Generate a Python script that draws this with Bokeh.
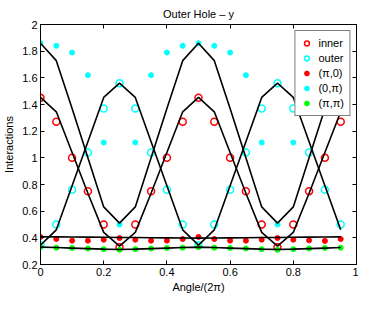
from bokeh.plotting import figure
from bokeh.models import LinearAxis, Range1d, FixedTicker, Legend, LegendItem, ColumnDataSource, Title
from bokeh.embed import file_html
from bokeh.resources import INLINE

angle = [0.0, 0.05, 0.1, 0.15, 0.2, 0.25, 0.3, 0.35, 0.4, 0.45,
         0.5, 0.55, 0.6, 0.65, 0.7, 0.75, 0.8, 0.85, 0.9, 0.95]

inner = [1.45, 1.27, 1.0, 0.75, 0.5, 0.33, 0.5, 0.75, 1.0, 1.27,
         1.45, 1.27, 1.0, 0.75, 0.5, 0.33, 0.5, 0.75, 1.0, 1.27]
outer = [0.345, 0.5, 0.76, 1.04, 1.37, 1.56, 1.37, 1.04, 0.76, 0.5,
         0.345, 0.5, 0.76, 1.04, 1.37, 1.56, 1.37, 1.04, 0.76, 0.5]
pi_0 = [0.407, 0.391, 0.379, 0.379, 0.386, 0.398, 0.386, 0.379, 0.379, 0.391,
        0.407, 0.391, 0.379, 0.379, 0.386, 0.398, 0.386, 0.381, 0.377, 0.391]
zero_pi = [1.86, 1.84, 1.79, 1.62, 1.115, 0.5, 1.115, 1.62, 1.79, 1.84,
           1.86, 1.84, 1.79, 1.62, 1.115, 0.5, 1.115, 1.62, 1.79, 1.84]
pi_pi = [0.331, 0.326, 0.324, 0.32, 0.315, 0.31, 0.315, 0.32, 0.324, 0.326,
         0.331, 0.326, 0.324, 0.32, 0.315, 0.31, 0.315, 0.32, 0.324, 0.326]

fit_a = [1.86, 1.729, 1.37, 1.0, 0.632, 0.51, 0.632, 1.0, 1.37, 1.729,
         1.86, 1.729, 1.37, 1.0, 0.632, 0.51, 0.632, 1.0, 1.37, 1.729]
fit_b = [1.453, 1.345, 1.04, 0.734, 0.441, 0.338, 0.441, 0.734, 1.04, 1.345,
         1.453, 1.345, 1.04, 0.734, 0.441, 0.338, 0.441, 0.734, 1.04, 1.345]
fit_c = [0.345, 0.46, 0.79, 1.12, 1.453, 1.56, 1.453, 1.12, 0.79, 0.46,
         0.345, 0.46, 0.79, 1.12, 1.453, 1.56, 1.453, 1.12, 0.79, 0.46]
fit_pi0 = [0.408, 0.407, 0.406, 0.405, 0.404, 0.403, 0.402, 0.401, 0.400, 0.399,
           0.398, 0.399, 0.400, 0.401, 0.402, 0.403, 0.404, 0.405, 0.406, 0.407]
fit_pipi = [0.330, 0.327, 0.323, 0.319, 0.315, 0.312, 0.315, 0.319, 0.323, 0.327,
            0.330, 0.327, 0.323, 0.319, 0.315, 0.312, 0.315, 0.319, 0.323, 0.327]

x_ticks = [0, 0.2, 0.4, 0.6, 0.8, 1]
x_labels = ["0", "0.2", "0.4", "0.6", "0.8", "1"]
y_ticks = [0.2, 0.4, 0.6, 0.8, 1, 1.2, 1.4, 1.6, 1.8, 2]
y_labels = ["0.2", "0.4", "0.6", "0.8", "1", "1.2", "1.4", "1.6", "1.8", "2"]

FONT = "Liberation Sans"

src = ColumnDataSource(dict(x=angle, inner=inner, outer=outer, pi_0=pi_0,
                            zero_pi=zero_pi, pi_pi=pi_pi, fa=fit_a, fb=fit_b,
                            fc=fit_c, f0=fit_pi0, fp=fit_pipi))

p = figure(width=358, height=294, x_range=Range1d(0, 1), y_range=Range1d(0.2, 2),
           output_backend="svg", toolbar_location=None,
           min_border_left=29, min_border_right=2, min_border_top=16, min_border_bottom=20)

p.title.text = "Outer Hole \u2013 y"
p.title.align = "center"
p.title.text_font = FONT
p.title.text_font_size = "11px"
p.title.text_font_style = "normal"
p.title.text_color = "black"

p.xgrid.visible = False
p.ygrid.visible = False
p.outline_line_color = "black"
p.outline_line_width = 1
p.outline_line_alpha = 1

def style_axis(ax, ticks, labels, show):
    ax.ticker = FixedTicker(ticks=ticks)
    ax.major_tick_in = 4
    ax.major_tick_out = 0
    ax.minor_tick_line_color = None
    ax.axis_line_color = "black"
    ax.major_tick_line_color = "black"
    if show:
        ax.major_label_overrides = {t: l for t, l in zip(ticks, labels)}
        ax.major_label_text_font = FONT
        ax.major_label_text_font_size = "11px"
        ax.major_label_text_color = "black"
        ax.major_label_standoff = 3
        ax.axis_label_text_font = FONT
        ax.axis_label_text_font_size = "11px"
        ax.axis_label_text_font_style = "normal"
        ax.axis_label_text_color = "black"
        ax.axis_label_standoff = 4
    else:
        ax.major_label_overrides = {t: "" for t in ticks}
        ax.major_label_text_font_size = "0px"
        ax.major_label_standoff = 0

style_axis(p.xaxis[0], x_ticks, x_labels, True)
style_axis(p.yaxis[0], y_ticks, y_labels, True)
p.yaxis.axis_label = "Interactions"

xlab = Title(text="Angle/(2\u03c0)", align="center", vertical_align="middle", standoff=2,
             text_font=FONT, text_font_size="11px", text_font_style="normal",
             text_color="black")
p.add_layout(xlab, "below")

top = LinearAxis()
style_axis(top, x_ticks, x_labels, False)
p.add_layout(top, "above")
right = LinearAxis()
style_axis(right, y_ticks, y_labels, False)
p.add_layout(right, "right")

r_inner = p.scatter("x", "inner", source=src, size=7, fill_color=None,
                    line_color="#ff0000", line_width=1.5)
r_outer = p.scatter("x", "outer", source=src, size=7, fill_color=None,
                    line_color="#00ffff", line_width=1.5)
r_pi0 = p.scatter("x", "pi_0", source=src, size=5, fill_color="#ff0000",
                  line_color="#ff0000")
r_0pi = p.scatter("x", "zero_pi", source=src, size=5, fill_color="#00ffff",
                  line_color="#00ffff")
r_pipi = p.scatter("x", "pi_pi", source=src, size=5, fill_color="#00ff00",
                   line_color="#00ff00")

for col in ["fa", "fb", "fc", "f0", "fp"]:
    p.line("x", col, source=src, line_color="black", line_width=1.6)

legend = Legend(items=[
    LegendItem(label="inner", renderers=[r_inner]),
    LegendItem(label="outer", renderers=[r_outer]),
    LegendItem(label="(\u03c0,0)", renderers=[r_pi0]),
    LegendItem(label="(0,\u03c0)", renderers=[r_0pi]),
    LegendItem(label="(\u03c0,\u03c0)", renderers=[r_pipi]),
], location="top_right")
legend.border_line_color = "black"
legend.border_line_width = 1
legend.background_fill_color = "white"
legend.background_fill_alpha = 1
legend.label_text_font = FONT
legend.label_text_font_size = "11px"
legend.label_text_color = "black"
legend.glyph_width = 12
legend.glyph_height = 14
legend.label_height = 14
legend.label_standoff = 6
legend.spacing = 1
legend.padding = 5
legend.margin = 6
p.add_layout(legend, "center")

open("out.html", "w").write(file_html(p, INLINE))
